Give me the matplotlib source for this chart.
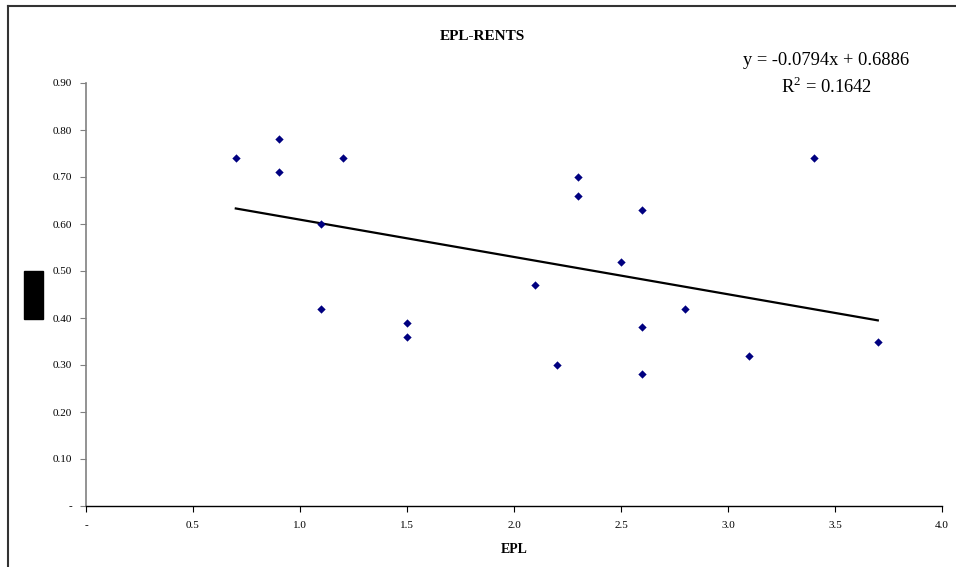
import numpy as np
import matplotlib.pyplot as plt
from matplotlib.patches import Rectangle
from matplotlib.lines import Line2D

plt.rcParams['font.family'] = ['Liberation Serif', 'DejaVu Serif']
plt.rcParams['mathtext.fontset'] = 'custom'
plt.rcParams['mathtext.rm'] = 'Liberation Serif'

# EPL vs RENTS scatter data
epl = [0.7, 0.9, 0.9, 1.1, 1.1, 1.2, 1.5, 1.5, 2.1, 2.2,
       2.3, 2.3, 2.5, 2.6, 2.6, 2.6, 2.8, 3.1, 3.4, 3.7]
rents = [0.74, 0.78, 0.71, 0.60, 0.42, 0.74, 0.39, 0.36, 0.47, 0.30,
         0.70, 0.66, 0.52, 0.63, 0.38, 0.28, 0.42, 0.32, 0.74, 0.35]

x_ticks = [0, 0.5, 1.0, 1.5, 2.0, 2.5, 3.0, 3.5, 4.0]
x_labels = ['-', '0.5', '1.0', '1.5', '2.0', '2.5', '3.0', '3.5', '4.0']
y_ticks = [0, 0.1, 0.2, 0.3, 0.4, 0.5, 0.6, 0.7, 0.8, 0.9]
y_labels = ['-', '0.10', '0.20', '0.30', '0.40', '0.50', '0.60', '0.70', '0.80', '0.90']

eq_text = "y = -0.0794x + 0.6886"
r2_text = r"R$^\mathrm{2}$ = 0.1642"

W, H = 956, 567
fig = plt.figure(figsize=(W / 100, H / 100), dpi=100)
ax = fig.add_axes([86 / W, 1 - 506 / H, (942 - 86) / W, (506 - 83) / H])

ax.scatter(epl, rents, marker='D', s=18, color='#000080', zorder=3, linewidths=0)

# linear trendline over the data range
slope, intercept = np.polyfit(epl, rents, 1)
xs = np.array([min(epl), max(epl)])
ax.plot(xs, slope * xs + intercept, color='black', lw=1.6, zorder=2)

ax.set_xlim(0, 4.0)
ax.set_ylim(0, 0.9)
ax.set_xticks(x_ticks)
ax.set_xticklabels(x_labels)
ax.set_yticks(y_ticks)
ax.set_yticklabels(y_labels)
ax.tick_params(axis='both', direction='out', length=4, labelsize=8)
ax.tick_params(axis='y', color='#808080', pad=6)
ax.tick_params(axis='x', color='black', pad=7)

for s in ['top', 'right']:
    ax.spines[s].set_visible(False)
ax.spines['left'].set_color('#808080')
ax.spines['left'].set_linewidth(1.2)
ax.spines['bottom'].set_color('black')
ax.spines['bottom'].set_linewidth(1.0)

ax.set_xlabel('EPL', fontsize=10, fontweight='bold', labelpad=9)

fig.text(482 / W, 1 - 37 / H, 'EPL-RENTS', fontsize=11, fontweight='bold',
         ha='center', va='center')
fig.text(826 / W, 1 - 61 / H, eq_text, fontsize=13.3, ha='center', va='center')
fig.text(826 / W, 1 - 87 / H, r2_text, fontsize=13.3, ha='center', va='center')

# black block where the y label sits
fig.patches.append(Rectangle((24 / W, 1 - 319 / H), 19 / W, 48 / H,
                             transform=fig.transFigure, color='black'))

# outer chart frame (left and top edges)
fig.add_artist(Line2D([8 / W, 8 / W], [0, 1 - 6 / H], transform=fig.transFigure,
                      color='#333333', lw=1.5))
fig.add_artist(Line2D([8 / W, 1], [1 - 6 / H, 1 - 6 / H], transform=fig.transFigure,
                      color='#333333', lw=1.5))

fig.savefig('out.png', dpi=100)
